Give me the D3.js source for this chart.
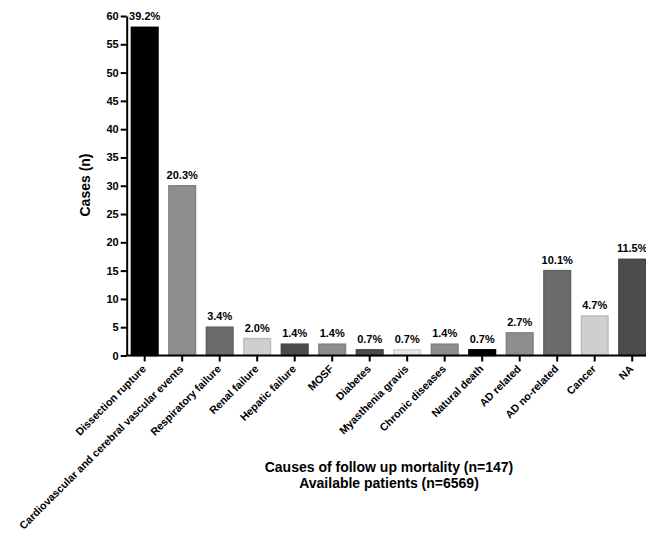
<!DOCTYPE html>
<html>
<head>
<meta charset="utf-8">
<script src="https://cdn.jsdelivr.net/npm/d3@7"></script>
<style>
  html, body { margin: 0; padding: 0; background: #fff; }
  svg { display: block; }
  text { font-family: "Liberation Sans", Arial, sans-serif; font-weight: bold; fill: #000; }
</style>
</head>
<body>
<svg id="chart" width="646" height="533"></svg>
<script>
// Causes of follow-up mortality
const categories = [
  "Dissection rupture",
  "Cardiovascular and cerebral vascular events",
  "Respiratory failure",
  "Renal failure",
  "Hepatic failure",
  "MOSF",
  "Diabetes",
  "Myasthenia gravis",
  "Chronic diseases",
  "Natural death",
  "AD related",
  "AD no-related",
  "Cancer",
  "NA"
];
const cases = [58, 30, 5, 3, 2, 2, 1, 1, 2, 1, 4, 15, 7, 17];
const percentLabels = ["39.2%", "20.3%", "3.4%", "2.0%", "1.4%", "1.4%", "0.7%", "0.7%", "1.4%", "0.7%", "2.7%", "10.1%", "4.7%", "11.5%"];
const barFills = ["#000000", "#8e8e8e", "#6b6b6b", "#cfcfcf", "#4c4c4c", "#8e8e8e", "#4c4c4c", "#e6e6e6", "#8e8e8e", "#000000", "#8e8e8e", "#6b6b6b", "#cfcfcf", "#4c4c4c"];
const yTicks = [0, 5, 10, 15, 20, 25, 30, 35, 40, 45, 50, 55, 60];
const yTitle = "Cases (n)";
const xTitleLines = ["Causes of follow up mortality (n=147)", "Available patients (n=6569)"];

const svg = d3.select("#chart");

const x0 = 126.7, y0 = 355.5, yTop = 16;
const x = d3.scaleBand()
  .domain(categories)
  .range([x0, x0 + 37.5 * (14 - 0.29 + 0.25)])
  .paddingInner(0.29)
  .paddingOuter(0.125);

const y = d3.scaleLinear().domain([0, 60]).range([y0, yTop]);

// bars
svg.append("g").selectAll("rect")
  .data(categories)
  .join("rect")
  .attr("x", d => x(d))
  .attr("y", (d, i) => y(cases[i]))
  .attr("width", x.bandwidth())
  .attr("height", (d, i) => y0 - y(cases[i]))
  .attr("fill", (d, i) => barFills[i])
  .attr("stroke", (d, i) => d3.color(barFills[i]).darker(0.25))
  .attr("stroke-width", 1.5);

// percentage labels
svg.append("g").selectAll("text")
  .data(categories)
  .join("text")
  .attr("x", d => x(d) + x.bandwidth() / 2)
  .attr("y", (d, i) => y(cases[i]) - 7)
  .attr("text-anchor", "middle")
  .style("font-size", "11px")
  .text((d, i) => percentLabels[i]);

// y axis
const yAxis = svg.append("g")
  .attr("transform", `translate(${x0},0)`)
  .call(d3.axisLeft(y).tickValues(yTicks).tickSize(6).tickPadding(2).tickSizeOuter(0));
yAxis.select(".domain").attr("stroke", "#000").attr("stroke-width", 2);
yAxis.selectAll(".tick line").attr("stroke", "#000").attr("stroke-width", 2);
yAxis.selectAll(".tick text").style("font-size", "11px").style("font-family", "Liberation Sans, Arial, sans-serif").style("font-weight", "bold");

// x axis
const xAxis = svg.append("g")
  .attr("transform", `translate(0,${y0})`)
  .call(d3.axisBottom(x).tickSize(6).tickSizeOuter(0));
xAxis.select(".domain").attr("stroke", "#000").attr("stroke-width", 2).attr("d", `M${x0 - 1},0H646`);
xAxis.selectAll(".tick line").attr("stroke", "#000").attr("stroke-width", 2);
xAxis.selectAll(".tick text")
  .style("font-size", "10.7px")
  .style("font-family", "Liberation Sans, Arial, sans-serif")
  .style("font-weight", "bold")
  .attr("text-anchor", "end")
  .attr("dy", null)
  .attr("y", null)
  .attr("transform", "translate(2,14) rotate(-45)");

// axis titles
svg.append("text")
  .attr("transform", "translate(90,185) rotate(-90)")
  .attr("text-anchor", "middle")
  .style("font-size", "14px")
  .text(yTitle);

svg.append("g").selectAll("text")
  .data(xTitleLines)
  .join("text")
  .attr("x", 389)
  .attr("y", (d, i) => 472 + i * 16)
  .attr("text-anchor", "middle")
  .style("font-size", "14px")
  .text(d => d);
</script>
</body>
</html>
